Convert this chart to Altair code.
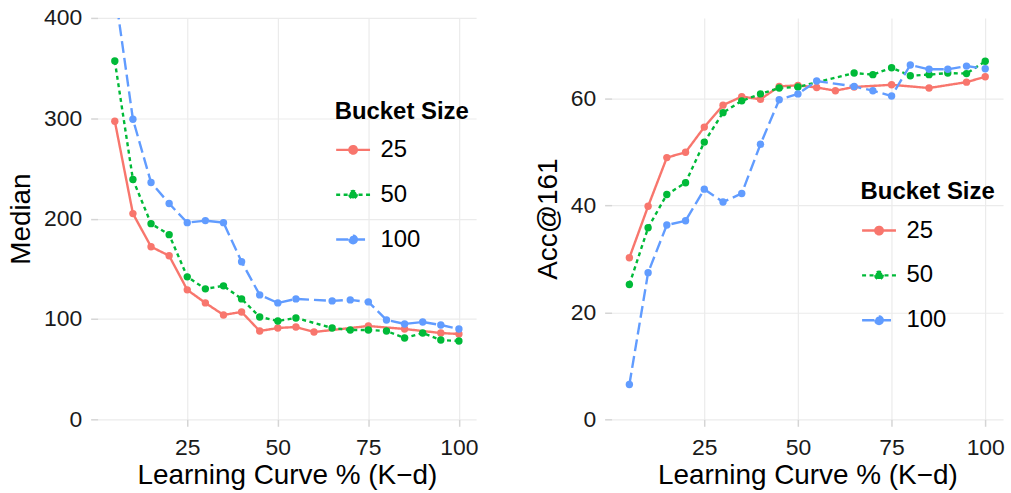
import altair as alt
import pandas as pd

pct = [5, 10, 15, 20, 25, 30, 35, 40, 45, 50, 55, 60, 65, 70, 75, 80, 85, 90, 95, 100]
buckets = ["25", "50", "100"]

median_25 = [297, 205, 172, 163, 129, 116, 104, 107, 88, 91, 92, 87, None, None, 93, None, 90, None, 86, 85]
median_50 = [357, 239, 195, 184, 142, 130, 133, 120, 102, 98, 101, None, 91, 89, 89, 88, 81, 86, 79, 78]
median_100 = [427, 299, 236, 215, 196, 198, 196, 157, 124, 116, 120, None, 118, 119, 117, 99, 95, 97, 94, 90]

acc_25 = [30.2, 39.8, 48.9, 49.9, 54.6, 58.7, 60.3, 59.8, 62.2, 62.4, 62.0, 61.4, 62.1, None, 62.5, None, 61.9, None, 63.0, 64.0]
acc_50 = [25.2, 35.8, 42.0, 44.2, 51.8, 57.3, 59.5, 60.8, 61.9, 62.1, None, None, 64.7, 64.4, 65.7, 64.2, 64.4, 64.7, 64.6, 66.9]
acc_100 = [6.5, 27.4, 36.3, 37.1, 43.0, 40.6, 42.2, 51.4, 59.7, 60.8, 63.2, None, 62.2, 61.4, 60.4, 66.2, 65.4, 65.4, 66.0, 65.5]

colors = ["#F8766D", "#00BA38", "#619CFF"]
dashes = [[1, 0], [4, 3.5], [12, 5]]

FONT = "Liberation Sans"
SYMBOL = "M-1,0L1,0M0.22,0A0.22,0.22,0,1,1,-0.22,0A0.22,0.22,0,1,1,0.22,0Z"


def long_df(series):
    rows = []
    for b, vals in zip(buckets, series):
        for p, v in zip(pct, vals):
            if v is not None:
                rows.append({"pct": p, "value": v, "bucket": b})
    return pd.DataFrame(rows)


def panel(df, ytitle, ydomain, yticks, width, height, lx, ly):
    leg = alt.Legend(
        title="Bucket Size", orient="none", legendX=lx, legendY=ly,
        symbolType=SYMBOL, symbolSize=1156, symbolStrokeWidth=2.4,
        labelFont=FONT, labelFontSize=24, labelColor="#000000", labelOffset=9,
        titleFont=FONT, titleFontSize=24, titleFontWeight="bold", titleColor="#000000",
        titlePadding=8, rowPadding=14,
    )
    x = alt.X("pct:Q", scale=alt.Scale(domain=[0.25, 104.75], nice=False, zero=False),
              axis=alt.Axis(values=[25, 50, 75, 100], title="Learning Curve % (K−d)", labelPadding=10, titlePadding=2))
    y = alt.Y("value:Q", scale=alt.Scale(domain=ydomain, nice=False, zero=False),
              axis=alt.Axis(values=yticks, title=ytitle, labelPadding=9, titlePadding=8))
    lines = alt.Chart(df).mark_line(clip=True, strokeWidth=2.4).encode(
        x=x, y=y,
        stroke=alt.Stroke("bucket:N", scale=alt.Scale(domain=buckets, range=colors), legend=leg),
        strokeDash=alt.StrokeDash("bucket:N", scale=alt.Scale(domain=buckets, range=dashes), legend=leg),
    )
    points = alt.Chart(df).mark_point(clip=True, filled=True, size=55, opacity=1).encode(
        x=x, y=y,
        color=alt.Color("bucket:N", scale=alt.Scale(domain=buckets, range=colors), legend=leg),
    )
    return alt.layer(lines, points).properties(width=width, height=height)


left = panel(long_df([median_25, median_50, median_100]), "Median", [0, 400], [0, 100, 200, 300, 400], 380, 403, 238, 82)
right = panel(long_df([acc_25, acc_50, acc_100]), "Acc@161", [0, 75], [0, 20, 40, 60], 393, 403, 250, 163)

chart = (
    alt.hconcat(left, right, spacing=56)
    .resolve_scale(x="independent", y="independent", color="independent", stroke="independent", strokeDash="independent")
    .resolve_legend(color="independent", stroke="independent", strokeDash="independent")
    .properties(padding={"left": 7, "top": 6, "right": 6, "bottom": 5}, background="white")
    .configure_view(stroke=None)
    .configure_axis(
        grid=True, gridColor="#EBEBEB", gridWidth=1.2, domain=False,
        tickColor="#D5D5D5", tickSize=7, tickWidth=1.5,
        labelFont=FONT, labelFontSize=23, labelColor="#1A1A1A",
        titleFont=FONT, titleFontSize=28, titleFontWeight="normal", titleColor="#000000",
    )
)

chart.save("out.html", embed_options={"renderer": "svg", "actions": False})
